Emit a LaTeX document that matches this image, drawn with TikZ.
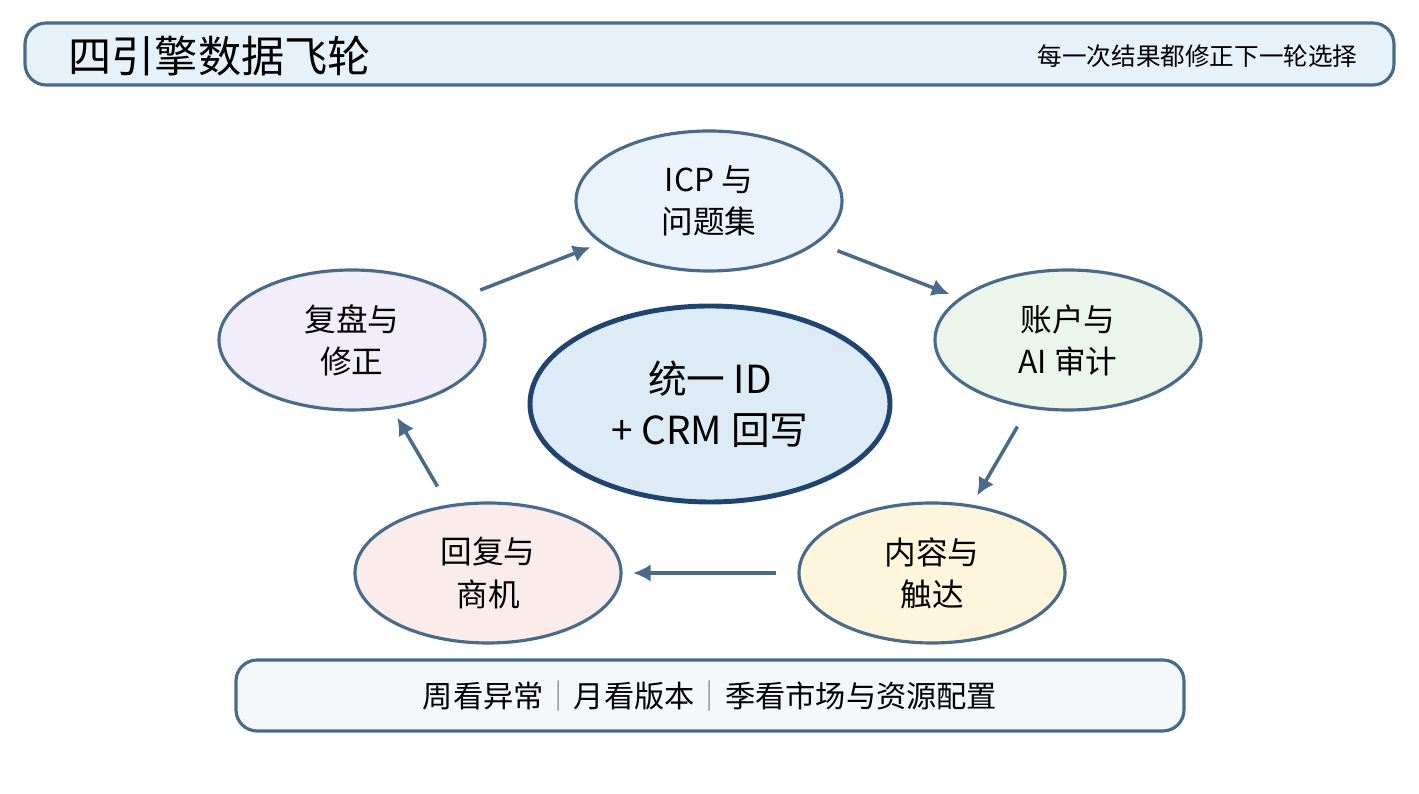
\documentclass[tikz,border=0pt]{standalone}
\usepackage{fontspec}
\setmainfont{Noto Sans CJK SC}
\usetikzlibrary{shapes.geometric,arrows.meta}
\definecolor{edge}{HTML}{4A6A8A}
\definecolor{deep}{HTML}{1F4470}
\definecolor{topfill}{HTML}{E6F1FA}
\definecolor{icpfill}{HTML}{EAF3FB}
\definecolor{accfill}{HTML}{EBF5EC}
\definecolor{cntfill}{HTML}{FDF6DC}
\definecolor{repfill}{HTML}{FBECEC}
\definecolor{revfill}{HTML}{F1EEFA}
\definecolor{corefill}{HTML}{DDEBF7}
\definecolor{lowfill}{HTML}{F5F8FB}
\tikzset{
	eng/.style={ellipse,draw=edge,line width=0.9pt,minimum width=2.66cm,minimum height=1.4cm,align=center,font=\fontsize{9}{12}\selectfont,inner sep=0pt},
	flow/.style={-{Latex[length=5pt,width=5pt]},line width=1pt,draw=edge,shorten >=3pt,shorten <=6pt},
	bar/.style={draw=edge,line width=0.9pt,rounded corners=6pt}
}
\begin{document}
\begin{tikzpicture}
	\useasboundingbox (0,0) rectangle (14.19,7.94);
	% titre
	\draw[bar,fill=topfill] (0.25,7.09) rectangle (13.94,7.71);
	\node[anchor=west,font=\fontsize{12.3}{14}\selectfont] (title) at (0.56,7.38) {四引擎数据飞轮};
	\node[anchor=east,font=\fontsize{7}{8}\selectfont] (motto) at (13.70,7.38) {每一次结果都修正下一轮选择};
	
	% les quatre moteurs
	\node[eng,fill=icpfill] (icp) at (7.09,5.93) {ICP 与\\问题集};
	\node[eng,fill=accfill] (acc) at (10.68,4.54) {账户与\\AI 审计};
	\node[eng,fill=cntfill] (cnt) at (9.32,2.21) {内容与\\触达};
	\node[eng,fill=repfill] (rep) at (4.88,2.21) {回复与\\商机};
	\node[eng,fill=revfill] (rev) at (3.52,4.54) {复盘与\\修正};
	
	% centre
	\node[ellipse,draw=deep,line width=1.4pt,fill=corefill,minimum width=3.6cm,minimum height=1.96cm,align=center,font=\fontsize{11}{14.5}\selectfont] (core) at (7.10,3.90) {统一 ID\\+ CRM 回写};
	
	\draw[flow] (rev) -- (icp);
	\draw[flow] (icp) -- (acc);
	\draw[flow] (acc) -- (cnt);
	\draw[flow] (cnt) -- (rep);
	\draw[flow] (rep) -- (rev);
	
	% rythme
	\draw[bar,fill=lowfill] (2.36,0.63) rectangle (11.84,1.34);
	\node[font=\fontsize{8.6}{10}\selectfont] (rhythm) at (7.10,0.98) {周看异常{\color{gray}｜}月看版本{\color{gray}｜}季看市场与资源配置};
\end{tikzpicture}
\end{document}
